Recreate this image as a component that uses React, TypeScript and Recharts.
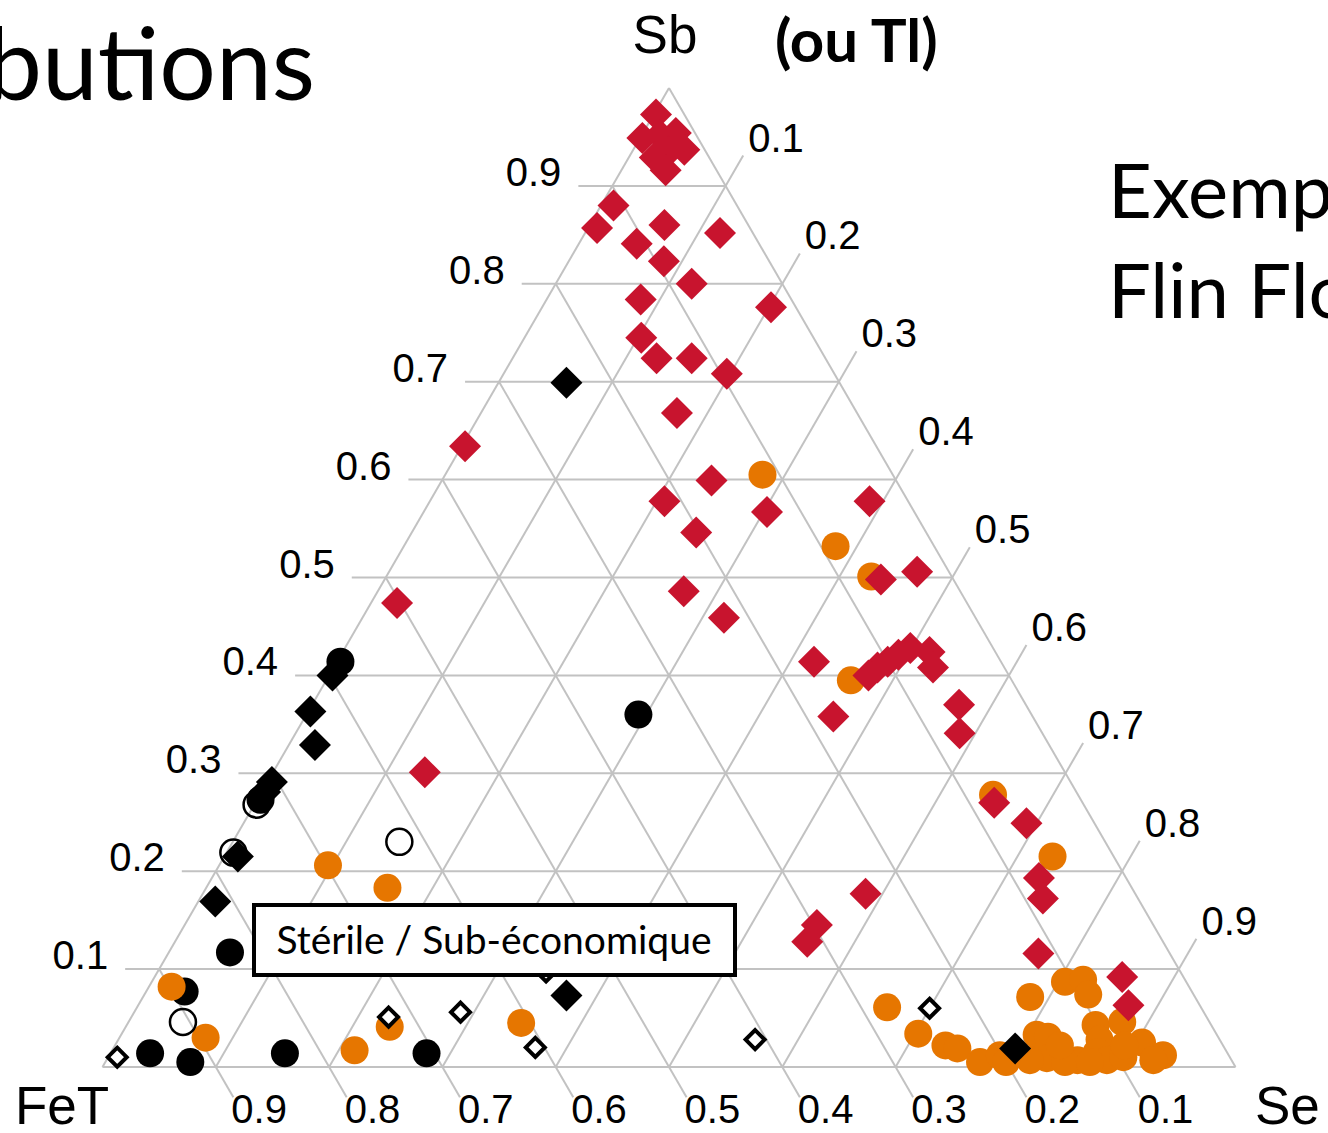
import React from "react";
import { ScatterChart, Scatter, XAxis, YAxis, ReferenceLine } from "recharts";

// page layout (px)
const W = 1328;
const H = 1133;
const ORIGIN_X = 102.5; // FeT corner
const SIDE = 1133; // base length
const BASE_Y = 1067;
const TRI_H = 979;

// compositions as [Sb, Se]; FeT = 1 - Sb - Se
const redDiamonds: [number, number][] = [
  [0.973, 0.002], [0.949, 0.002], [0.952, 0.016], [0.954, 0.029], [0.937, 0.045], [0.935, 0.032],
  [0.929, 0.023], [0.916, 0.039], [0.88, 0.011], [0.857, 0.008], [0.86, 0.066], [0.841, 0.051],
  [0.823, 0.084], [0.852, 0.119], [0.8, 0.12], [0.784, 0.083], [0.776, 0.202], [0.745, 0.103],
  [0.724, 0.127], [0.724, 0.158], [0.708, 0.197], [0.668, 0.173], [0.599, 0.238], [0.578, 0.207],
  [0.567, 0.303], [0.546, 0.251], [0.578, 0.388], [0.486, 0.27], [0.459, 0.319], [0.498, 0.438],
  [0.506, 0.466], [0.414, 0.421], [0.358, 0.466], [0.4, 0.476], [0.408, 0.48], [0.414, 0.486],
  [0.421, 0.492], [0.428, 0.499], [0.424, 0.518], [0.408, 0.529], [0.37, 0.571], [0.341, 0.586],
  [0.474, 0.023], [0.634, 0.003], [0.301, 0.134], [0.27, 0.652], [0.249, 0.691], [0.193, 0.73],
  [0.172, 0.744], [0.177, 0.585], [0.145, 0.558], [0.128, 0.558], [0.116, 0.768], [0.092, 0.854],
  [0.063, 0.874],
];

const orangeCircles: [number, number][] = [
  [0.605, 0.28], [0.532, 0.381], [0.501, 0.428], [0.395, 0.463], [0.278, 0.647], [0.215, 0.731],
  [0.206, 0.096], [0.183, 0.16], [0.082, 0.02], [0.03, 0.076], [0.017, 0.214], [0.041, 0.233],
  [0.045, 0.347], [0.061, 0.662], [0.034, 0.703], [0.022, 0.733], [0.019, 0.745], [0.005, 0.772],
  [0.012, 0.786], [0.005, 0.795], [0.0715, 0.783], [0.033, 0.808], [0.031, 0.819], [0.009, 0.829],
  [0.087, 0.806], [0.089, 0.821], [0.074, 0.833], [0.043, 0.855], [0.046, 0.877], [0.028, 0.866],
  [0.007, 0.857], [0.015, 0.87], [0.007, 0.883], [0.01, 0.896], [0.025, 0.905], [0.012, 0.93],
  [0.007, 0.924], [0.005, 0.847], [0.005, 0.869], [0.022, 0.834], [0.022, 0.891], [0.007, 0.815],
];

const blackDiamonds: [number, number][] = [
  [0.699, 0.06], [0.4, 0.003], [0.363, 0.002], [0.329, 0.023], [0.291, 0.004], [0.281, 0.003],
  [0.215, 0.012], [0.169, 0.015], [0.073, 0.373], [0.019, 0.796],
];

const blackCircles: [number, number][] = [
  [0.414, 0.003], [0.36, 0.293], [0.117, 0.054], [0.077, 0.034], [0.014, 0.035], [0.005, 0.075],
  [0.014, 0.154], [0.014, 0.279], [0.273, 0.003],
];

const openCircles: [number, number][] = [
  [0.23, 0.147], [0.046, 0.048], [0.268, 0.002], [0.219, 0.006],
];

const openDiamonds: [number, number][] = [
  [0.01, 0.008], [0.051, 0.227], [0.056, 0.288], [0.02, 0.372], [0.028, 0.562], [0.06, 0.7], [0.097, 0.343],
];

const ticks = [0.1, 0.2, 0.3, 0.4, 0.5, 0.6, 0.7, 0.8, 0.9];

const RED = "#c8142e";
const ORANGE = "#e67600";
const GRID = "#c2c2c2";
const TICK_X = 0.03; // horizontal tick length (x units)
const EXT_X = 0.0155; // slanted tick (x units)
const EXT_Y = 0.031;

const toXY = ([sb, se]: [number, number]) => ({ x: se + sb / 2, y: sb });

type Seg = [{ x: number; y: number }, { x: number; y: number }];
const segments: Seg[] = [
  [{ x: 0, y: 0 }, { x: 1, y: 0 }],
  [{ x: 0, y: 0 }, { x: 0.5, y: 1 }],
  [{ x: 1, y: 0 }, { x: 0.5, y: 1 }],
];
ticks.forEach((t) => {
  segments.push([{ x: t / 2 - TICK_X, y: t }, { x: 1 - t / 2, y: t }]);
  segments.push([{ x: t, y: 0 }, { x: t + (1 - t) / 2 + EXT_X, y: 1 - t + EXT_Y }]);
  segments.push([{ x: (1 - t) / 2, y: 1 - t }, { x: 1 - t + EXT_X, y: -EXT_Y }]);
});

const sbLabels = ticks.map((t) => ({ x: t / 2 - TICK_X, y: t, text: t.toFixed(1) }));
const seLabels = ticks.map((t) => ({ x: t + (1 - t) / 2 + EXT_X, y: 1 - t + EXT_Y, text: t.toFixed(1) }));
const fetLabels = ticks.map((t) => ({ x: 1 - t + EXT_X, y: -EXT_Y, text: t.toFixed(1) }));

const labelFont = { fontFamily: "Liberation Sans, Arial, sans-serif", fontSize: 40, fill: "#000" };

const textShape = (dx: number, dy: number, anchor: string) => (p: any) => (
  <text x={p.cx + dx} y={p.cy + dy} textAnchor={anchor} {...labelFont}>
    {p.payload.text}
  </text>
);

const diamond = (half: number, fill: string) => (p: any) => (
  <polygon
    points={`${p.cx},${p.cy - half} ${p.cx + half},${p.cy} ${p.cx},${p.cy + half} ${p.cx - half},${p.cy}`}
    fill={fill}
  />
);
const openDiamond = (p: any) => (
  <polygon
    points={`${p.cx},${p.cy - 9.5} ${p.cx + 9.5},${p.cy} ${p.cx},${p.cy + 9.5} ${p.cx - 9.5},${p.cy}`}
    fill="#fff"
    stroke="#000"
    strokeWidth={4}
  />
);
const dot = (fill: string) => (p: any) => <circle cx={p.cx} cy={p.cy} r={14} fill={fill} />;
const ring = (p: any) => <circle cx={p.cx} cy={p.cy} r={13} fill="none" stroke="#000" strokeWidth={2.5} />;

const slideFont = "Lato, 'Open Sans', sans-serif";

export default function App() {
  return (
    <div style={{ position: "absolute", left: 0, top: 0, width: W, height: H, overflow: "hidden", background: "#fff" }}>
      <ScatterChart width={W} height={H} margin={{ top: 0, right: 0, bottom: 0, left: 0 }}>
        <XAxis type="number" dataKey="x" hide allowDataOverflow domain={[-ORIGIN_X / SIDE, (W - ORIGIN_X) / SIDE]} />
        <YAxis type="number" dataKey="y" hide allowDataOverflow domain={[-(H - BASE_Y) / TRI_H, BASE_Y / TRI_H]} />
        {segments.map((s, i) => (
          <ReferenceLine key={i} segment={s} stroke={GRID} strokeWidth={2} ifOverflow="visible" />
        ))}
        <Scatter data={sbLabels} shape={textShape(-17, 0, "end")} isAnimationActive={false} />
        <Scatter data={seLabels} shape={textShape(5, -4, "start")} isAnimationActive={false} />
        <Scatter data={fetLabels} shape={textShape(-2, 26, "start")} isAnimationActive={false} />
        <Scatter data={blackCircles.map(toXY)} shape={dot("#000")} isAnimationActive={false} />
        <Scatter data={orangeCircles.map(toXY)} shape={dot(ORANGE)} isAnimationActive={false} />
        <Scatter data={redDiamonds.map(toXY)} shape={diamond(16, RED)} isAnimationActive={false} />
        <Scatter data={blackDiamonds.map(toXY)} shape={diamond(16, "#000")} isAnimationActive={false} />
        <Scatter data={openDiamonds.map(toXY)} shape={openDiamond} isAnimationActive={false} />
        <Scatter data={openCircles.map(toXY)} shape={ring} isAnimationActive={false} />
      </ScatterChart>
      <svg width={W} height={H} style={{ position: "absolute", left: 0, top: 0, pointerEvents: "none" }}>
        <text x={-14} y={100} fontFamily={slideFont} fontSize={100}>butions</text>
        <text x={1108} y={218} fontFamily={slideFont} fontSize={76}>Exemple</text>
        <text x={1108} y={318} fontFamily={slideFont} fontSize={76}>Flin Flon</text>
        <text x={665} y={53} textAnchor="middle" fontFamily="Liberation Sans, Arial, sans-serif" fontSize={53}>Sb</text>
        <text x={775} y={62} fontFamily={slideFont} fontWeight="bold" fontSize={60}>(ou Tl)</text>
        <text x={15} y={1124} fontFamily="Liberation Sans, Arial, sans-serif" fontSize={53}>FeT</text>
        <text x={1255} y={1124} fontFamily="Liberation Sans, Arial, sans-serif" fontSize={53}>Se</text>
        <rect x={254} y={905} width={481} height={70} fill="#fff" stroke="#000" strokeWidth={4} />
        <text x={494} y={954} textAnchor="middle" fontFamily={slideFont} fontSize={39}>Stérile / Sub-économique</text>
      </svg>
    </div>
  );
}
